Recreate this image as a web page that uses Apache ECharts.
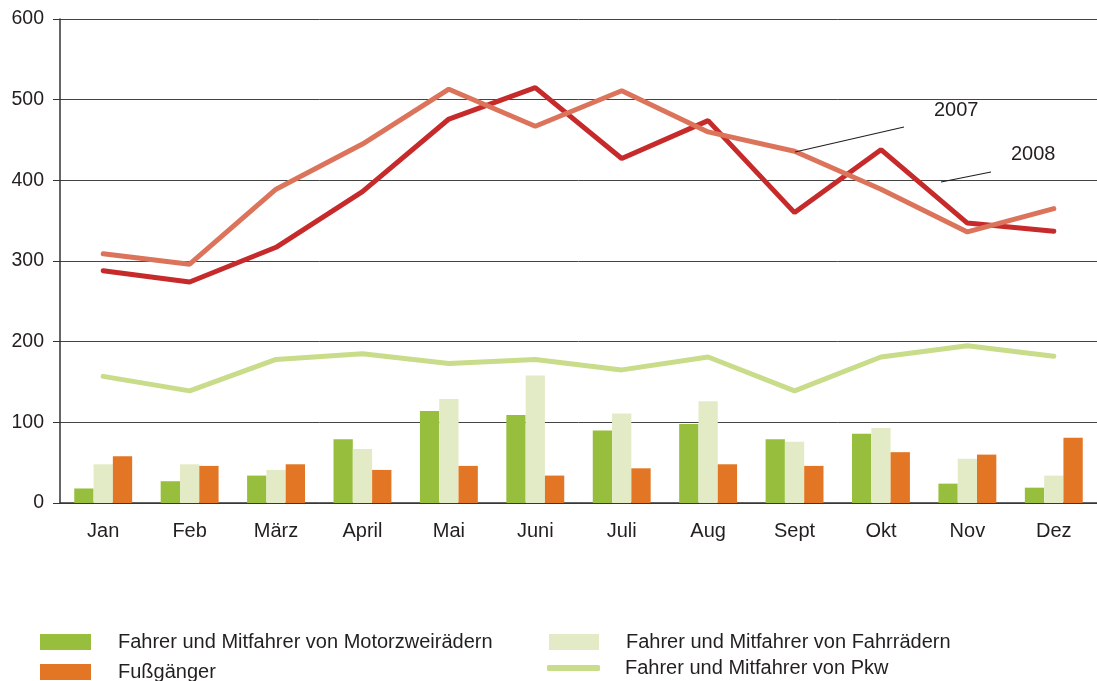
<!DOCTYPE html>
<html>
<head>
<meta charset="utf-8">
<script src="https://cdn.jsdelivr.net/npm/echarts@6/dist/echarts.min.js"></script>
<style>
  html, body { margin: 0; padding: 0; background: #fff; }
  #chart { width: 1097px; height: 681px; }
</style>
</head>
<body>
<div id="chart"></div>
<script>
// Monate
const months = ['Jan', 'Feb', 'März', 'April', 'Mai', 'Juni', 'Juli', 'Aug', 'Sept', 'Okt', 'Nov', 'Dez']
const yTicks = [0, 100, 200, 300, 400, 500, 600]

// Linien (gesamt)
const total2008 = [288, 274, 317, 386, 476, 515, 427, 474, 360, 438, 347, 337]
const total2007 = [309, 296, 389, 445, 513, 467, 511, 460, 436, 389, 336, 365]
const pkw = [157, 139, 178, 185, 173, 178, 165, 181, 139, 181, 195, 182]

// Balken
const motorrad = [18, 27, 34, 79, 114, 109, 90, 98, 79, 86, 24, 19]
const fahrrad = [48, 48, 41, 67, 129, 158, 111, 126, 76, 93, 55, 34]
const fussgaenger = [58, 46, 48, 41, 46, 34, 43, 48, 46, 63, 60, 81]

const txt = '#231f20'
const font = 'Liberation Sans, Arial, sans-serif'

const chart = echarts.init(document.getElementById('chart'))

// ein Legendeneintrag pro Legende, damit nichts umbricht
function legendItem(name, left, top, extra) {
  return Object.assign({
    left: left,
    top: top,
    itemWidth: 51,
    itemHeight: 16,
    icon: 'rect',
    selectedMode: false,
    data: [name],
    textStyle: { color: txt, fontSize: 20, fontFamily: font, padding: [0, 0, 0, 22] }
  }, extra || {})
}

const option = {
  animation: false,
  backgroundColor: '#fff',
  grid: { left: 60, top: 19, bottom: 178, right: -14, containLabel: false },
  legend: [
    legendItem('Fahrer und Mitfahrer von Motorzweirädern', 35, 627),
    legendItem('Fußgänger', 35, 657),
    legendItem('Fahrer und Mitfahrer von Fahrrädern', 544, 627, { itemWidth: 50 }),
    legendItem('Fahrer und Mitfahrer von Pkw', 542, 653, { itemWidth: 53, itemHeight: 6, icon: 'roundRect', textStyle: { color: txt, fontSize: 20, fontFamily: font, padding: [0, 0, 0, 20] } })
  ],
  xAxis: {
    type: 'category',
    data: months,
    boundaryGap: true,
    axisLine: { lineStyle: { color: '#333', width: 1.5 } },
    axisTick: { show: false },
    axisLabel: { color: txt, fontSize: 20, fontFamily: font, margin: 18 }
  },
  yAxis: {
    type: 'value',
    min: yTicks[0],
    max: yTicks[yTicks.length - 1],
    interval: 100,
    axisLine: { show: true, lineStyle: { color: '#333', width: 1.5 } },
    axisTick: { show: true, length: 7, lineStyle: { color: '#333' } },
    axisLabel: { color: txt, fontSize: 19.5, fontFamily: font, margin: 16 },
    splitLine: { lineStyle: { color: '#444', width: 1 } }
  },
  series: [
    {
      name: 'Fahrer und Mitfahrer von Motorzweirädern',
      type: 'bar',
      data: motorrad,
      barGap: 0,
      barCategoryGap: '33%',
      itemStyle: { color: '#97bf3d' }
    },
    {
      name: 'Fahrer und Mitfahrer von Fahrrädern',
      type: 'bar',
      data: fahrrad,
      barGap: 0,
      barCategoryGap: '33%',
      itemStyle: { color: '#e3ebc6' }
    },
    {
      name: 'Fußgänger',
      type: 'bar',
      data: fussgaenger,
      barGap: 0,
      barCategoryGap: '33%',
      itemStyle: { color: '#e37624' }
    },
    {
      name: 'Fahrer und Mitfahrer von Pkw',
      type: 'line',
      data: pkw,
      symbol: 'none',
      itemStyle: { color: '#c8dc8a' },
      lineStyle: { color: '#c8dc8a', width: 5, cap: 'round' }
    },
    {
      name: '2008',
      type: 'line',
      data: total2008,
      symbol: 'none',
      itemStyle: { color: '#c62a2a' },
      lineStyle: { color: '#c62a2a', width: 5, cap: 'round' }
    },
    {
      name: '2007',
      type: 'line',
      data: total2007,
      symbol: 'none',
      itemStyle: { color: '#dc745c' },
      lineStyle: { color: '#dc745c', width: 5, cap: 'round' }
    }
  ],
  // Beschriftung der Jahreslinien
  graphic: [
    { type: 'line', shape: { x1: 795, y1: 152, x2: 904, y2: 127 }, style: { stroke: '#231f20', lineWidth: 1.2 }, z: 100 },
    { type: 'text', left: 934, top: 100, style: { text: '2007', fill: txt, fontSize: 20, fontFamily: font }, z: 100 },
    { type: 'line', shape: { x1: 941, y1: 182, x2: 991, y2: 172 }, style: { stroke: '#231f20', lineWidth: 1.2 }, z: 100 },
    { type: 'text', left: 1011, top: 144, style: { text: '2008', fill: txt, fontSize: 20, fontFamily: font }, z: 100 }
  ]
}

chart.setOption(option)
</script>
</body>
</html>
